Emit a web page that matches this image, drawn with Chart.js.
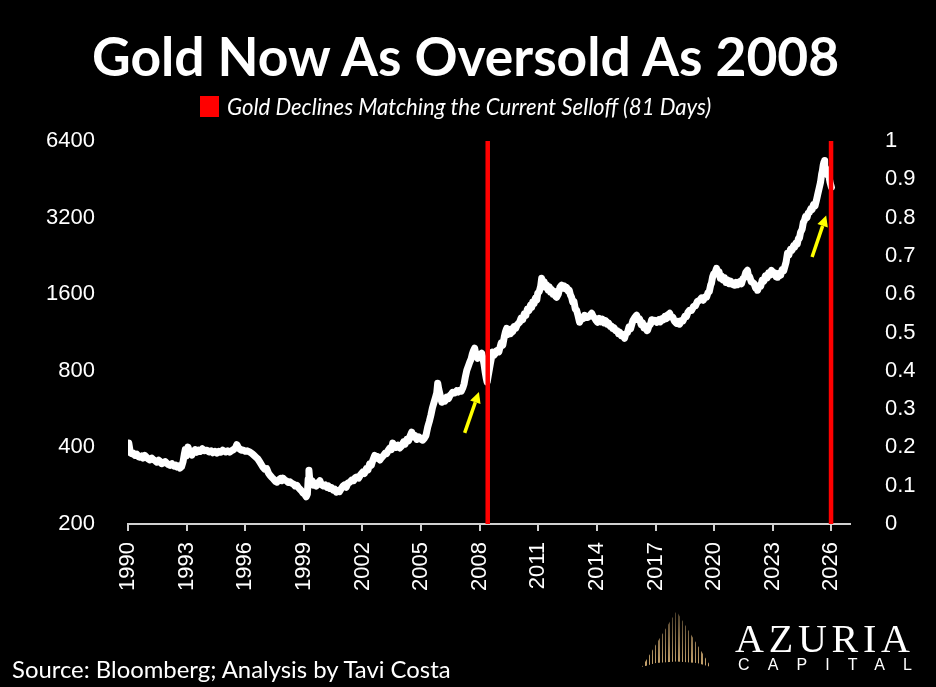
<!DOCTYPE html>
<html>
<head>
<meta charset="utf-8">
<script src="https://cdn.jsdelivr.net/npm/chart.js@4.4.1/dist/chart.umd.min.js"></script>
<style>
  html, body { margin:0; padding:0; background:#000; }
  #wrap { position:relative; width:936px; height:687px; background:#000; overflow:hidden; }
  #c { position:absolute; left:0; top:0; }
  .txt { position:absolute; color:#fff; white-space:nowrap; line-height:1; transform:translateY(-50%); }
  #title { font-family:'Lato', 'Open Sans', sans-serif; font-weight:700; }
  #legtxt { font-family:'Lato', 'Open Sans', sans-serif; font-style:italic; font-weight:400; }
  #legbox { position:absolute; left:200px; top:96px; width:19px; height:21px; background:#ff0000; }
  #source { font-family:'Lato', 'Open Sans', sans-serif; font-weight:400; }
  #azuria { position:absolute; font-family:'Liberation Serif', 'DejaVu Serif', serif; color:#fff; white-space:nowrap; line-height:1; }
  #capital { position:absolute; font-family:'Liberation Sans', sans-serif; color:#fff; white-space:nowrap; line-height:1; }
  #fan { position:absolute; left:642px; top:611px; width:69px; height:56px;
    background: repeating-linear-gradient(90deg, rgba(214,176,118,0.95) 0 1.3px, transparent 1.3px 3.3px);
    clip-path: polygon(50% 0, 100% 100%, 80% 93%, 50% 90%, 20% 93%, 0 100%);
    -webkit-mask-image: linear-gradient(to bottom, rgba(0,0,0,0.35), rgba(0,0,0,1));
    mask-image: linear-gradient(to bottom, rgba(0,0,0,0.35), rgba(0,0,0,1)); }
</style>
</head>
<body>
<div id="wrap">
  <canvas id="c" width="936" height="687"></canvas>
  <div id="title" class="txt">Gold Now As Oversold As 2008</div>
  <div id="legbox"></div>
  <div id="legtxt" class="txt">Gold Declines Matching the Current Selloff (81 Days)</div>
  <div id="source" class="txt">Source: Bloomberg; Analysis by Tavi Costa</div>
  <div id="fan"></div>
  <div id="azuria">AZURIA</div>
  <div id="capital">CAPITAL</div>
</div>
<script>
// ---------------- DATA ----------------
const goldYears = [
1990.00,1990.04,1990.10,1990.18,1990.26,1990.36,1990.45,1990.53,1990.61,1990.70,1990.77,1990.86,1990.95,
1991.04,1991.12,1991.22,1991.30,1991.40,1991.48,1991.57,1991.65,1991.72,1991.79,1991.90,
1992.00,1992.08,1992.15,1992.25,1992.35,1992.43,1992.51,1992.58,1992.66,1992.74,1992.82,1992.88,1992.93,1992.98,
1993.07,1993.14,1993.20,1993.27,1993.35,1993.44,1993.53,1993.62,1993.70,1993.80,1993.90,
1994.04,1994.15,1994.25,1994.35,1994.45,1994.55,1994.65,1994.75,1994.85,
1995.00,1995.10,1995.20,1995.30,1995.40,1995.50,1995.57,1995.64,1995.72,1995.80,1995.88,
1996.00,1996.10,1996.24,1996.35,1996.45,1996.55,1996.65,1996.75,1996.83,1996.90,
1997.00,1997.10,1997.18,1997.26,1997.36,1997.45,1997.55,1997.62,1997.70,1997.80,1997.87,1997.93,
1998.02,1998.12,1998.20,1998.29,1998.38,1998.47,1998.56,1998.64,1998.72,1998.80,1998.88,1998.95,
1999.04,1999.12,1999.18,1999.22,1999.26,1999.30,1999.36,1999.42,1999.48,1999.56,1999.64,1999.72,1999.82,1999.90,
2000.00,2000.10,2000.18,2000.26,2000.33,2000.42,2000.50,2000.58,2000.66,2000.74,2000.82,2000.92,2000.99,
2001.08,2001.17,2001.26,2001.35,2001.45,2001.55,2001.63,2001.71,2001.80,2001.90,
2002.02,2002.10,2002.20,2002.28,2002.37,2002.45,2002.53,2002.63,2002.70,2002.78,2002.89,2002.98,
2003.08,2003.16,2003.24,2003.32,2003.40,2003.48,2003.55,2003.63,2003.72,2003.82,2003.91,
2004.00,2004.10,2004.18,2004.27,2004.36,2004.45,2004.52,2004.60,2004.70,2004.78,2004.88,2004.97,
2005.08,2005.16,2005.25,2005.34,2005.42,2005.50,2005.58,2005.66,2005.74,2005.80,2005.85,2005.90,2005.98,
2006.06,2006.14,2006.22,2006.31,2006.40,2006.48,2006.56,2006.62,2006.72,2006.82,2006.90,2006.98,
2007.06,2007.13,2007.20,2007.27,2007.34,2007.42,2007.49,2007.56,2007.62,2007.68,2007.74,2007.79,2007.85,2007.90,2007.96,
2008.04,2008.10,2008.16,2008.22,2008.28,2008.33,2008.38,2008.43,2008.48,2008.54,2008.60,2008.66,2008.72,2008.80,2008.86,2008.92,2008.98,
2009.04,2009.10,2009.18,2009.26,2009.32,2009.38,2009.44,2009.50,2009.58,2009.64,2009.69,2009.76,2009.84,2009.92,
2010.04,2010.12,2010.20,2010.28,2010.36,2010.44,2010.52,2010.60,2010.66,2010.71,2010.78,2010.85,2010.92,2010.97,
2011.05,2011.12,2011.17,2011.23,2011.30,2011.37,2011.43,2011.50,2011.56,2011.62,2011.68,2011.75,2011.82,2011.88,2011.94,
2012.02,2012.10,2012.19,2012.26,2012.32,2012.39,2012.45,2012.52,2012.58,2012.64,2012.70,2012.76,2012.82,2012.89,2012.96,
2013.03,2013.11,2013.18,2013.25,2013.31,2013.37,2013.44,2013.52,2013.60,2013.67,2013.73,2013.80,2013.88,2013.96,
2014.03,2014.12,2014.20,2014.28,2014.36,2014.44,2014.52,2014.60,2014.68,2014.74,2014.80,2014.88,2014.96,
2015.04,2015.10,2015.16,2015.24,2015.32,2015.41,2015.48,2015.56,2015.64,2015.72,2015.77,2015.84,2015.92,
2016.03,2016.10,2016.18,2016.26,2016.33,2016.40,2016.48,2016.56,2016.59,2016.66,2016.74,2016.80,2016.85,2016.95,
2017.06,2017.16,2017.24,2017.31,2017.40,2017.48,2017.56,2017.64,2017.72,2017.80,2017.88,2017.96,
2018.07,2018.15,2018.23,2018.32,2018.40,2018.50,2018.58,2018.66,2018.74,2018.84,2018.94,
2019.04,2019.14,2019.25,2019.34,2019.44,2019.52,2019.61,2019.68,2019.75,2019.82,2019.86,2019.92,2019.97,
2020.04,2020.12,2020.18,2020.25,2020.31,2020.37,2020.45,2020.52,2020.60,2020.68,2020.76,2020.84,2020.92,
2021.04,2021.12,2021.20,2021.30,2021.40,2021.47,2021.54,2021.62,2021.70,2021.76,2021.82,2021.90,2021.96,
2022.04,2022.12,2022.18,2022.22,2022.30,2022.38,2022.46,2022.54,2022.62,2022.70,2022.78,2022.86,2022.93,
2023.02,2023.10,2023.17,2023.24,2023.32,2023.40,2023.48,2023.56,2023.62,2023.68,2023.75,2023.82,2023.90,2023.98,
2024.06,2024.11,2024.18,2024.25,2024.31,2024.36,2024.42,2024.50,2024.56,2024.62,2024.68,2024.75,2024.81,2024.87,2024.94,
2025.01,2025.08,2025.16,2025.23,2025.30,2025.38,2025.44,2025.50,2025.54,2025.58,2025.62,2025.64,2025.67,2025.71,2025.74,2025.78,2025.83,2025.88,2025.93,2026.00
];
const goldPrices = [
383,416,390,378,380,372,376,368,366,370,363,372,366,
360,357,363,358,354,350,356,352,345,347,352,
346,342,340,345,338,341,335,338,332,336,352,375,392,370,
401,385,378,373,385,392,383,390,386,395,388,
390,384,388,381,386,380,386,383,390,
384,388,383,388,392,398,410,400,394,390,391,
386,388,383,378,372,366,360,350,342,335,
328,330,318,311,305,300,294,292,298,302,296,303,
298,295,291,293,289,287,282,284,278,274,270,265,
262,256,262,300,325,300,292,296,284,289,282,290,296,285,
282,285,279,282,276,278,272,274,267,270,268,276,281,
285,279,290,292,298,296,304,306,303,312,
320,316,330,326,345,340,356,372,362,368,357,365,
372,380,378,390,398,392,416,405,400,408,398,
405,420,412,430,425,446,459,440,445,430,440,432,
427,434,446,481,505,535,572,600,630,654,715,680,640,
602,615,608,630,622,640,650,659,655,668,660,671,
666,684,710,760,804,835,865,890,930,960,982,940,915,896,915,
930,938,900,850,790,750,721,760,800,850,900,947,920,935,960,964,950,
990,1030,1010,1090,1140,1175,1110,1135,1120,1170,1140,1195,1175,1215,
1241,1290,1270,1340,1320,1400,1380,1450,1420,1490,1470,1545,1520,1613,
1640,1720,1847,1740,1790,1700,1740,1660,1710,1630,1670,1600,1640,1570,1556,
1600,1700,1735,1690,1725,1680,1700,1650,1660,1590,1556,1490,1500,1400,1383,
1320,1241,1280,1300,1285,1322,1300,1295,1310,1330,1346,1310,1290,1260,
1241,1285,1245,1275,1235,1260,1220,1230,1195,1200,1175,1180,1150,
1150,1120,1135,1100,1110,1074,1120,1130,1190,1170,1208,1260,1290,
1322,1270,1280,1215,1235,1180,1200,1150,1154,1200,1220,1270,1250,1264,
1240,1270,1245,1280,1270,1310,1285,1330,1346,1300,1300,1255,
1230,1250,1220,1260,1255,1310,1305,1360,1383,1380,1430,
1440,1500,1514,1545,1515,1560,1556,1620,1640,1740,1767,1870,1920,
1940,2022,1920,1960,1850,1890,1820,1860,1780,1820,1760,1800,1750,
1735,1780,1745,1790,1760,1840,1860,1950,1986,1880,1870,1790,1782,
1760,1690,1720,1657,1730,1720,1820,1800,1890,1850,1940,1900,1986,
1920,1940,1870,1864,1930,1900,2000,1980,2060,2140,2315,2280,2400,2380,
2480,2445,2540,2520,2650,2652,2800,2880,3060,3120,3240,3200,3330,3354,3460,
3440,3600,3560,3738,3950,4205,4400,4750,4902,5150,5300,5367,5100,5000,4772,4900,4680,4620,4400,4205
];
// Red bars: dates of gold declines matching the current selloff (right axis, full height 0..1)
const selloffYears = [2008.41, 2025.98];
const selloffRange = [0, 1];
// Yellow arrows (tail -> head) in data units
const arrowTails = [[2007.23, 456], [2025.01, 2240]];
const arrowHeads = [[2007.96, 661], [2025.73, 3264]];
// Tick labels
const xTickYears = [1990,1993,1996,1999,2002,2005,2008,2011,2014,2017,2020,2023,2026];
const leftTicks = [200,400,800,1600,3200,6400];
const rightTicks = [0,0.1,0.2,0.3,0.4,0.5,0.6,0.7,0.8,0.9,1];

// ---------------- CHART ----------------
const goldData = goldYears.map((x, i) => ({x, y: goldPrices[i]}));
const redSets = selloffYears.map(yr => ({
  type: 'line',
  data: selloffRange.map(v => ({x: yr, y: v})),
  yAxisID: 'y1',
  borderColor: '#ff0000',
  borderWidth: 4.5,
  borderCapStyle: 'butt',
  pointRadius: 0,
  fill: false
}));

const arrowPlugin = {
  id: 'arrows',
  afterDatasetsDraw(chart) {
    const {ctx, scales: {x, y}} = chart;
    ctx.save();
    ctx.strokeStyle = '#ffff00';
    ctx.fillStyle = '#ffff00';
    ctx.lineWidth = 3.5;
    arrowTails.forEach((t, i) => {
      const h = arrowHeads[i];
      const x0 = x.getPixelForValue(t[0]), y0 = y.getPixelForValue(t[1]);
      const x1 = x.getPixelForValue(h[0]), y1 = y.getPixelForValue(h[1]);
      const ang = Math.atan2(y1 - y0, x1 - x0);
      const hl = 11, hw = 5.5;
      const bx = x1 - hl * Math.cos(ang), by = y1 - hl * Math.sin(ang);
      ctx.beginPath();
      ctx.moveTo(x0, y0);
      ctx.lineTo(bx, by);
      ctx.stroke();
      ctx.beginPath();
      ctx.moveTo(x1, y1);
      ctx.lineTo(bx + hw * Math.sin(ang), by - hw * Math.cos(ang));
      ctx.lineTo(bx - hw * Math.sin(ang), by + hw * Math.cos(ang));
      ctx.closePath();
      ctx.fill();
    });
    ctx.restore();
  }
};

const tickFont = {family: "'Liberation Sans', Arial, sans-serif", size: 22};

new Chart(document.getElementById('c'), {
  type: 'line',
  data: {
    datasets: [
      ...redSets,
      {
        label: 'Gold',
        data: goldData,
        yAxisID: 'y',
        borderColor: '#ffffff',
        borderWidth: 7,
        borderJoinStyle: 'round',
        borderCapStyle: 'round',
        pointRadius: 0,
        tension: 0,
        fill: false
      }
    ]
  },
  options: {
    responsive: false,
    animation: false,
    events: [],
    layout: {padding: {top: 141, left: 0, right: 0, bottom: 0}},
    plugins: {legend: {display: false}, tooltip: {enabled: false}, title: {display: false}},
    scales: {
      x: {
        type: 'linear',
        min: 1990,
        max: 2026.95,
        afterBuildTicks: s => { s.ticks = xTickYears.map(v => ({value: v})); },
        afterFit: s => { s.height = 163; },
        grid: {display: true, drawOnChartArea: false, drawTicks: true, tickLength: 7, color: '#d0d0d0', lineWidth: 2},
        border: {display: true, color: '#d0d0d0', width: 2},
        ticks: {color: '#ffffff', font: tickFont, minRotation: 90, maxRotation: 90, padding: 11, autoSkip: false,
                callback: v => String(v)}
      },
      y: {
        type: 'logarithmic',
        position: 'left',
        min: 200,
        max: 6400,
        afterBuildTicks: s => { s.ticks = leftTicks.map(v => ({value: v})); },
        afterFit: s => { s.width = 128; },
        grid: {display: false},
        border: {display: false},
        ticks: {color: '#ffffff', font: tickFont, padding: 25, autoSkip: false, callback: v => String(v)}
      },
      y1: {
        type: 'linear',
        position: 'right',
        min: 0,
        max: 1,
        afterBuildTicks: s => { s.ticks = rightTicks.map(v => ({value: v})); },
        afterFit: s => { s.width = 86; },
        grid: {display: false},
        border: {display: false},
        ticks: {color: '#ffffff', font: tickFont, padding: 27, autoSkip: false,
                callback: v => String(Math.round(v * 10) / 10)}
      }
    }
  },
  plugins: [arrowPlugin]
});

// ---------------- TEXT FITTING ----------------
function fitText(id, left, width, centerY) {
  const el = document.getElementById(id);
  const cs = getComputedStyle(el);
  const ctx = document.createElement('canvas').getContext('2d');
  ctx.font = `${cs.fontStyle} ${cs.fontWeight} 100px ${cs.fontFamily}`;
  const w = ctx.measureText(el.textContent).width;
  const fs = 100 * width / w;
  el.style.fontSize = fs + 'px';
  el.style.left = left + 'px';
  el.style.top = centerY + 'px';
}
fitText('title', 92, 752, 56);
fitText('legtxt', 227, 485, 107);
fitText('source', 12, 441, 669);

(function logo() {
  const az = document.getElementById('azuria');
  az.style.fontSize = '40px';
  const ctx = document.createElement('canvas').getContext('2d');
  ctx.font = "40px 'Liberation Serif'";
  const w = ctx.measureText('AZURIA').width;
  az.style.letterSpacing = ((175 - w) / 5) + 'px';
  az.style.left = '735px';
  az.style.top = '619px';
  const cp = document.getElementById('capital');
  cp.style.fontSize = '16px';
  ctx.font = "16px 'Liberation Sans'";
  const w2 = ctx.measureText('CAPITAL').width;
  cp.style.letterSpacing = ((174 - w2) / 6) + 'px';
  cp.style.left = '738px';
  cp.style.top = '657px';
})();
</script>
</body>
</html>
